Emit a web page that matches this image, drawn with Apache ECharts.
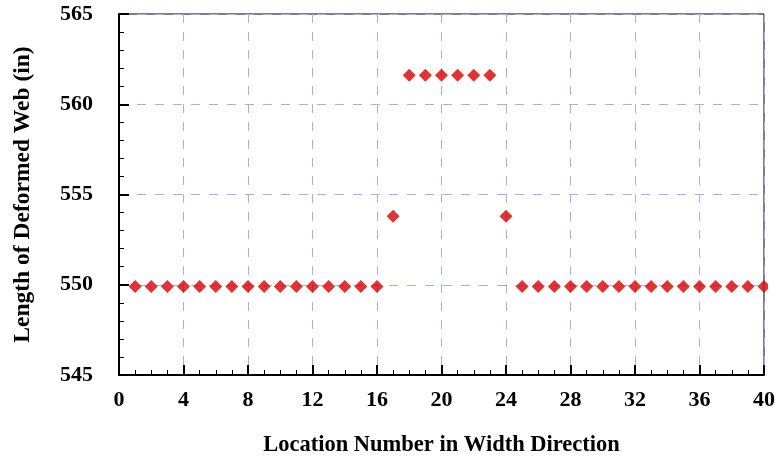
<!DOCTYPE html>
<html>
<head>
<meta charset="utf-8">
<script src="https://cdn.jsdelivr.net/npm/echarts@6/dist/echarts.min.js"></script>
<style>
html,body{margin:0;padding:0;background:#fff;}
#chart{width:778px;height:462px;}
</style>
</head>
<body>
<div id="chart"></div>
<script>
var locations = [1,2,3,4,5,6,7,8,9,10,11,12,13,14,15,16,17,18,19,20,21,22,23,24,25,26,27,28,29,30,31,32,33,34,35,36,37,38,39,40];
var lengths = [549.9,549.9,549.9,549.9,549.9,549.9,549.9,549.9,549.9,549.9,549.9,549.9,549.9,549.9,549.9,549.9,
               553.8,561.6,561.6,561.6,561.6,561.6,561.6,553.8,
               549.9,549.9,549.9,549.9,549.9,549.9,549.9,549.9,549.9,549.9,549.9,549.9,549.9,549.9,549.9,549.9];
var xTicks = [0,4,8,12,16,20,24,28,32,36,40];
var yTicks = [545,550,555,560,565];
var xTitle = 'Location Number in Width Direction';
var yTitle = 'Length of Deformed Web (in)';

var pts = locations.map(function(x,i){return [x, lengths[i]];});
var font = 'Liberation Serif';
var chart = echarts.init(document.getElementById('chart'), null, {renderer:'canvas'});
chart.setOption({
  animation:false,
  backgroundColor:'#fff',
  grid:{left:119,right:11,top:14,bottom:86,show:true,borderColor:'#000',borderWidth:1,backgroundColor:'transparent'},
  graphic:[{type:'rect',left:768,top:0,shape:{width:10,height:370},style:{fill:'#fff'},z:100}],
  xAxis:{
    type:'value',min:xTicks[0],max:xTicks[xTicks.length-1],interval:4,
    name:xTitle,nameLocation:'middle',nameGap:59,
    nameTextStyle:{fontFamily:font,fontWeight:'bold',fontSize:22.5,color:'#000'},
    axisLine:{show:true,onZero:false,lineStyle:{color:'#000',width:2}},
    axisTick:{show:true,inside:true,length:10,lineStyle:{color:'#000',width:2}},
    minorTick:{show:true,splitNumber:4,length:5,lineStyle:{color:'#000',width:1}},
    axisLabel:{fontFamily:font,fontWeight:'bold',fontSize:22,color:'#000',margin:14},
    splitLine:{show:true,lineStyle:{color:'#a8a8ff',type:[9,9],width:1}}
  },
  yAxis:{
    type:'value',min:yTicks[0],max:yTicks[yTicks.length-1],interval:5,
    name:yTitle,nameLocation:'middle',nameGap:84,
    nameTextStyle:{fontFamily:font,fontWeight:'bold',fontSize:23.5,color:'#000'},
    axisLine:{show:true,onZero:false,lineStyle:{color:'#000',width:2}},
    axisTick:{show:true,inside:true,length:10,lineStyle:{color:'#000',width:2}},
    minorTick:{show:true,splitNumber:5,length:5,lineStyle:{color:'#000',width:1}},
    axisLabel:{fontFamily:font,fontWeight:'bold',fontSize:22,color:'#000',margin:26},
    splitLine:{show:true,lineStyle:{color:'#a8a8ff',type:[9,9],width:1}}
  },
  series:[{
    type:'scatter',data:pts,symbol:'diamond',symbolSize:13,clip:true,
    itemStyle:{color:'#d80000'}
  }]
});
</script>
</body>
</html>
